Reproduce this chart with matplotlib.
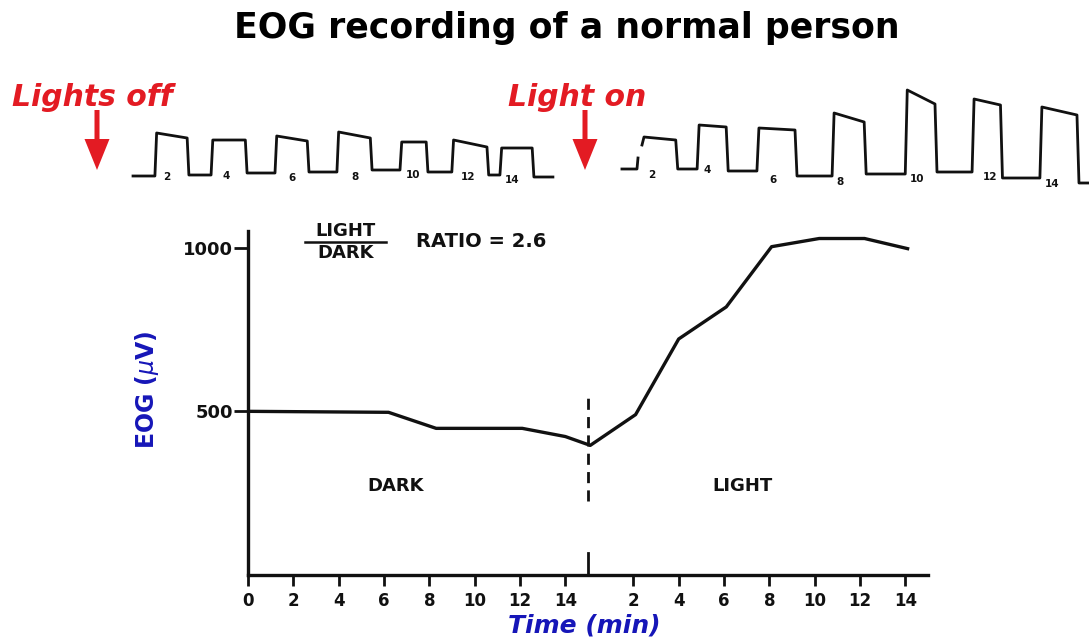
import matplotlib
matplotlib.use("Agg")
import matplotlib.pyplot as plt
from matplotlib.patches import FancyArrow

RED = "#e31b23"
BLUE = "#1616b8"
INK = "#111111"
plt.rcParams["font.family"] = ["DejaVu Sans"]

# EOG amplitude (uV) over the session; light switched on at 15 min
t_min = [0, 6.2, 8.3, 12.1, 14.0, 15.1, 17.1, 19.0, 21.1, 23.1, 25.2, 27.2, 29.1]
eog_uv = [500, 497, 448, 448, 423, 396, 490, 721, 819, 1003, 1028, 1028, 997]
light_onset = 15.0
dark_ticks = [0, 2, 4, 6, 8, 10, 12, 14]
light_ticks = [2, 4, 6, 8, 10, 12, 14]
y_ticks = [500, 1000]

# raw saccade traces: one square pulse per cycle (time in min, arbitrary amplitude)
dark_rise = [1.58, 3.53, 5.75, 7.90, 10.09, 11.89, 13.56]
dark_fall = [2.76, 4.78, 6.93, 9.12, 11.06, 13.17, 14.74]
dark_top0 = [47, 40, 44, 48, 38, 40, 32]
dark_top1 = [42, 40, 39, 42, 38, 33, 32]
dark_base = [4, 5, 7, 8, 10, 8, 5, 3]
dark_span = [0.82, 15.4]

light_rise = [1.70, 3.35, 5.14, 7.39, 9.58, 11.58, 13.61]
light_fall = [2.77, 4.28, 6.34, 8.41, 10.53, 12.49, 14.78]
light_top0 = [43, 55, 52, 67, 90, 81, 73]
light_top1 = [40, 53, 50, 58, 76, 75, 65]
light_base = [35, 11, 9, 4, 6, 8, 2, -3]
light_span = [1.70, 15.08]
light_lead_t = [1.10, 1.55, 1.58]
light_lead_v = [11, 11, 22]

trace_labels = ["2", "4", "6", "8", "10", "12", "14"]
dark_lab_x = [2.0, 4.05, 6.34, 8.53, 10.55, 12.45, 14.0]
dark_lab_y = [3, 4, 2, 3, 5, 3, 0]
light_lab_x = [2.0, 3.65, 5.62, 7.63, 9.93, 12.11, 13.99]
light_lab_y = [5, 10, 0, -2, 1, 3, -4]


def pulses(rise, fall, top0, top1, base, span, edge=0.06):
    xs, ys = [span[0]], [base[0]]
    for i in range(len(rise)):
        xs += [rise[i], rise[i] + edge, fall[i] - edge, fall[i]]
        ys += [base[i], top0[i], top1[i], base[i + 1]]
    xs.append(span[1]); ys.append(base[-1])
    return xs, ys


fig = plt.figure(figsize=(10.89, 6.4), dpi=100)

# pixel-space layer for title, captions and arrows
bg = fig.add_axes([0, 0, 1, 1]); bg.set_xlim(0, 1089); bg.set_ylim(640, 0); bg.axis("off")
bg.text(567, 28, "EOG recording of a normal person", ha="center", va="center",
        fontsize=25, weight="bold", color="black")
bg.text(12, 98, "Lights off", ha="left", va="center", fontsize=21.5, weight="bold",
        style="italic", color=RED)
bg.text(508, 98, "Light on", ha="left", va="center", fontsize=21.5, weight="bold",
        style="italic", color=RED)
for ax_x in (97, 585):
    bg.add_patch(FancyArrow(ax_x, 110, 0, 60, width=5, head_width=25, head_length=31,
                            length_includes_head=True, color=RED, lw=0))

# raw traces
for box, xl, args, lead, lab_x, lab_y in [
        ([120, 560], (0.368, 15.646), (dark_rise, dark_fall, dark_top0, dark_top1, dark_base, dark_span),
         None, dark_lab_x, dark_lab_y),
        ([600, 1089], (0.443, 15.08), (light_rise, light_fall, light_top0, light_top1, light_base, light_span),
         (light_lead_t, light_lead_v), light_lab_x, light_lab_y)]:
    ta = fig.add_axes([box[0] / 1089, (640 - 195) / 640, (box[1] - box[0]) / 1089, 115 / 640])
    ta.set_xlim(*xl); ta.set_ylim(-15, 100); ta.axis("off")
    xs, ys = pulses(*args)
    ta.plot(xs, ys, color=INK, lw=2.0, solid_joinstyle="round")
    if lead:
        ta.plot(lead[0], lead[1], color=INK, lw=2.0)
    for s, x, y in zip(trace_labels, lab_x, lab_y):
        ta.text(x, y, s, ha="center", va="center", fontsize=7.5, weight="bold", color=INK)

# summary curve
ax = fig.add_axes([248 / 1089, 65 / 640, 680 / 1089, 343.7 / 640])
ax.set_xlim(0, 30); ax.set_ylim(0, 1050)
ax.plot(t_min, eog_uv, color=INK, lw=2.4, solid_joinstyle="round")
ax.plot([light_onset, light_onset], [225, 545], color=INK, lw=2, ls=(0, (4, 2.6)))
ax.plot([light_onset, light_onset], [0, 68], color=INK, lw=2)

xt = dark_ticks + [light_onset + t for t in light_ticks]
ax.set_xticks(xt)
ax.set_xticklabels([str(t) for t in dark_ticks + light_ticks], fontsize=12, weight="bold")
ax.set_yticks(y_ticks)
ax.set_yticklabels([str(v) for v in y_ticks], fontsize=13, weight="bold")
ax.tick_params(axis="x", length=8, width=2, pad=4, colors=INK)
ax.tick_params(axis="y", length=10, width=2, pad=1, colors=INK)
for s in ("top", "right"):
    ax.spines[s].set_visible(False)
for s in ("left", "bottom"):
    ax.spines[s].set_linewidth(2.4); ax.spines[s].set_color(INK)

ax.text(6.5, 272, "DARK", ha="center", va="center", fontsize=13, weight="bold", color=INK)
ax.text(21.8, 272, "LIGHT", ha="center", va="center", fontsize=13, weight="bold", color=INK)
ax.text(4.3, 1050, "LIGHT", ha="center", va="center", fontsize=13, weight="bold", color=INK)
ax.text(4.3, 983, "DARK", ha="center", va="center", fontsize=13, weight="bold", color=INK)
ax.plot([2.5, 6.1], [1016, 1016], color=INK, lw=1.8, clip_on=False)
ax.text(7.4, 1018, "RATIO = 2.6", ha="left", va="center", fontsize=14, weight="bold", color=INK)

ax.set_ylabel(r"EOG ($\mu$V)", fontsize=17, weight="bold", color=BLUE)
ax.yaxis.set_label_coords(-0.128, 0.54)
ax.set_xlabel("Time (min)", fontsize=18, weight="bold", style="italic", color=BLUE, va="center")
ax.xaxis.set_label_coords(0.494, -0.148)

fig.savefig("out.png", dpi=100, facecolor="white")
